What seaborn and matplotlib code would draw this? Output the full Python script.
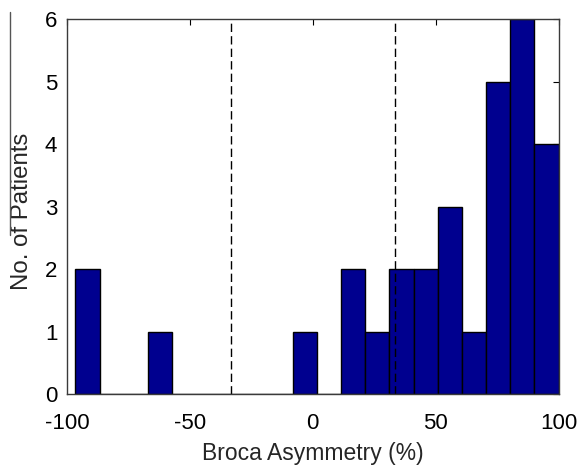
import numpy as np
import pandas as pd
import matplotlib
matplotlib.use("Agg")
import matplotlib.pyplot as plt
from matplotlib.lines import Line2D
import seaborn as sns

# ---- data ----
bin_start = -96.6
bin_end = 100.0
n_bins = 20
counts = [2, 0, 0, 1, 0, 0, 0, 0, 0, 1, 0, 2, 1, 2, 2, 3, 1, 5, 6, 4]
threshold_lines = [-33.3, 33.3]
x_ticks = [-100, -50, 0, 50, 100]
y_ticks = [0, 1, 2, 3, 4, 5, 6]
x_label = "Broca Asymmetry (%)"
y_label = "No. of Patients"

edges = np.linspace(bin_start, bin_end, n_bins + 1)
centers = (edges[:-1] + edges[1:]) / 2
df = pd.DataFrame({"asym": centers, "n": counts})

sns.set_style("white")
plt.rcParams["font.family"] = ["Liberation Sans", "DejaVu Sans"]
plt.rcParams["axes.unicode_minus"] = False

fig = plt.figure(figsize=(5.77, 4.65), dpi=100)
ax = fig.add_axes([67 / 577, 1 - 394.3 / 465, (558.5 - 67) / 577, (394.3 - 19) / 465])

sns.histplot(data=df, x="asym", weights="n", bins=n_bins,
             binrange=(bin_start, bin_end), stat="count",
             color="#00008F", edgecolor="black", linewidth=1.0, alpha=1.0, ax=ax)

for xv in threshold_lines:
    ax.axvline(xv, color="black", linewidth=1.0, linestyle=(0, (6, 3)))

ax.set_xlim(-100, 100)
ax.set_ylim(0, 6)
ax.set_xticks(x_ticks)
ax.set_yticks(y_ticks)
ax.set_xlabel(x_label, fontsize=16.5, labelpad=6)
ax.set_ylabel(y_label, fontsize=17.3)
ax.yaxis.set_label_coords(-0.070, 0.487)
ax.tick_params(axis="both", which="both", direction="in", length=4, width=0.8,
               top=True, right=True, labelsize=16, colors="black")
ax.tick_params(axis="x", pad=13.5)
ax.tick_params(axis="y", pad=7)
for s in ax.spines.values():
    s.set_visible(True)
    s.set_color("#3a3a3a")
    s.set_linewidth(1.0)

# thin stray line at the left edge of the reference image
fig.add_artist(Line2D([10 / 577, 10 / 577], [1 - 12 / 465, 1 - 235 / 465],
                      transform=fig.transFigure, color="#555555", linewidth=1.0))

fig.savefig("out.png", dpi=100)
